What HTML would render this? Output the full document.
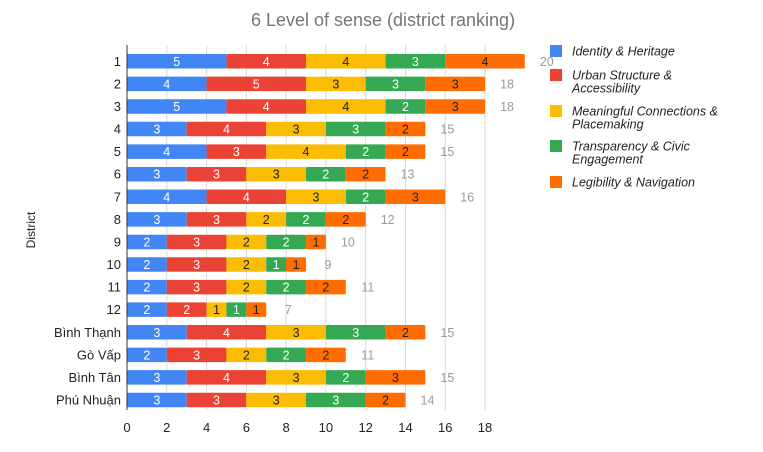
<!DOCTYPE html>
<html><head><meta charset="utf-8"><style>
body{margin:0;background:#fff;}
svg{display:block;font-family:"Liberation Sans","Noto Sans CJK SC",sans-serif;}
</style></head><body>
<svg id="chart" width="763" height="452">
<text x="383" y="26" text-anchor="middle" font-size="18" fill="#757575">6 Level of sense (district ranking)</text>
<text x="0" y="0" transform="translate(35,230) rotate(-90)" text-anchor="middle" font-size="12" fill="#222">District</text>
<g id="grid"></g><g id="bars"></g><g id="axes"></g><g id="legend"></g>
</svg>
<script>
const categories=["1","2","3","4","5","6","7","8","9","10","11","12","Bình Thạnh","Gò Vấp","Bình Tân","Phú Nhuận"];
const seriesNames=["Identity & Heritage","Urban Structure & Accessibility","Meaningful Connections & Placemaking","Transparency & Civic Engagement","Legibility & Navigation"];
const identity=[5,4,5,3,4,3,4,3,2,2,2,2,3,2,3,3];
const urban=[4,5,4,4,3,3,4,3,3,3,3,2,4,3,4,3];
const meaningful=[4,3,4,3,4,3,3,2,2,2,2,1,3,2,3,3];
const transparency=[3,3,2,3,2,2,2,2,2,1,2,1,3,2,2,3];
const legibility=[4,3,3,2,2,2,3,2,1,1,2,1,2,2,3,2];
const xTicks=[0,2,4,6,8,10,12,14,16,18];
const legendLines=[["Identity & Heritage"],["Urban Structure &","Accessibility"],["Meaningful Connections &","Placemaking"],["Transparency & Civic","Engagement"],["Legibility & Navigation"]];

const series=[identity,urban,meaningful,transparency,legibility];
const colors=["#4285f4","#ea4335","#fbbc04","#34a853","#ff6d01"];
const textColors=["#fff","#fff","#222","#fff","#222"];
const NS="http://www.w3.org/2000/svg";
const x0=127,unit=19.89,yTop=61.3,step=22.58,bh=14.5;
function xs(v){return x0+v*unit;}
function yc(i){return yTop+i*step;}
function mk(tag,attrs,parent){const e=document.createElementNS(NS,tag);for(const k in attrs)e.setAttribute(k,attrs[k]);parent.appendChild(e);return e;}
const grid=document.getElementById('grid'),bars=document.getElementById('bars'),axes=document.getElementById('axes'),legend=document.getElementById('legend');
xTicks.forEach(t=>{
  const l=mk('line',{x1:xs(t),x2:xs(t),y1:45,y2:410,stroke:'#d9d9d9','stroke-width':1},grid);
  
  
  const tx=mk('text',{x:xs(t),y:432,'text-anchor':'middle','font-size':13,fill:'#222'},axes);
  tx.textContent=t;
  
  
});
const ax=mk('line',{x1:x0,x2:x0,y1:45,y2:410,stroke:'#333','stroke-width':1},axes);


categories.forEach((c,i)=>{
  const lab=mk('text',{x:121,y:yc(i)+4.5,'text-anchor':'end','font-size':13,fill:'#222'},axes);
  lab.textContent=c;
  
  
  let acc=0;
  series.forEach((s,k)=>{
    const v=s[i];
    const r=mk('rect',{x:xs(acc),y:yc(i)-bh/2,width:xs(acc+v)-xs(acc),height:bh,fill:colors[k],rx:1},bars);
    
    
    const t=mk('text',{x:(xs(acc)+xs(acc+v))/2,y:yc(i)+4.5,'text-anchor':'middle','font-size':12.5,fill:textColors[k]},bars);
    t.textContent=v;
    
    
    acc+=v;
  });
  const tot=mk('text',{x:xs(acc)+22,y:yc(i)+4.5,'text-anchor':'middle','font-size':12.5,fill:'#999'},bars);
  tot.textContent=acc;
  
  
});
const legY=[51,75,111,146,182];
legendLines.forEach((lines,k)=>{
  const g=mk('g',{},legend);
  
  
  mk('rect',{x:550,y:legY[k]-6,width:12,height:12,fill:colors[k]},g);
  lines.forEach((ln,j)=>{
    const t=mk('text',{x:572,y:legY[k]+4.5+j*13,'font-size':12.5,'font-style':'italic',fill:'#222'},g);
    t.textContent=ln;
  });
});
</script>
</body></html>
